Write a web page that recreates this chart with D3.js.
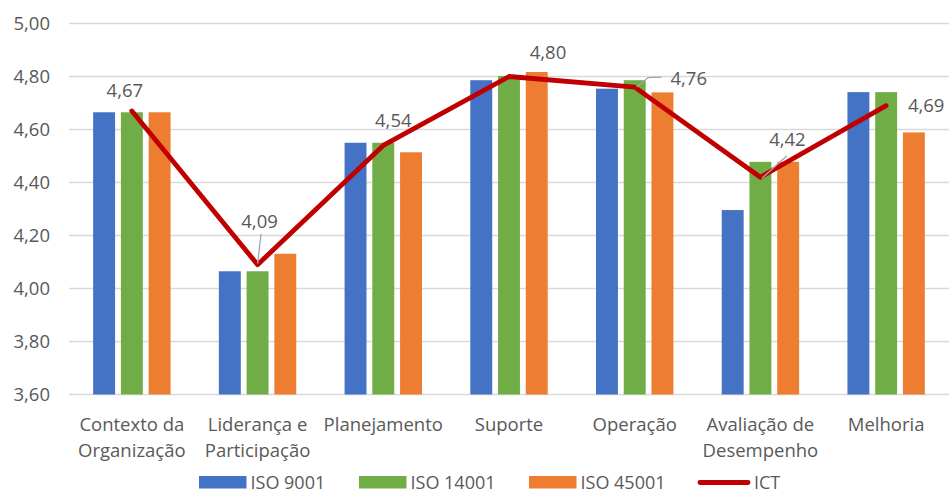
<!DOCTYPE html>
<html><head><meta charset="utf-8">
<script src="https://cdn.jsdelivr.net/npm/d3@7"></script>
<style>body{margin:0;background:#fff}svg{display:block}text{font-family:"Open Sans",sans-serif;fill:#595959}</style>
</head><body>
<svg id="c" width="949" height="493"></svg>
<script>
const categories = [["Contexto da","Organização"],["Liderança e","Participação"],["Planejamento"],["Suporte"],["Operação"],["Avaliação de","Desempenho"],["Melhoria"]];
const seriesNames = ["ISO 9001","ISO 14001","ISO 45001"];
const iso9001 = [4.665, 4.065, 4.55, 4.786, 4.754, 4.296, 4.741];
const iso14001 = [4.665, 4.065, 4.55, 4.802, 4.786, 4.478, 4.741];
const iso45001 = [4.665, 4.131, 4.514, 4.817, 4.74, 4.478, 4.589];
const ictName = "ICT";
const ict = [4.67, 4.09, 4.54, 4.80, 4.76, 4.42, 4.69];
const yTicks = [3.6, 3.8, 4.0, 4.2, 4.4, 4.6, 4.8, 5.0];

const colors = ["#4472C4","#70AD47","#ED7D31"];
const lineColor = "#C00000";
const fmt = v => d3.format(".2f")(v).replace(".", ",");
// label offsets relative to line point (dx, dy) and optional leader polylines
const labelPos = [
  {dx:-7, dy:-14},
  {dx:2, dy:-37, leader:[[3.5,-31],[0,-1]]},
  {dx:10, dy:-18},
  {dx:39, dy:-17.5},
  {dx:54, dy:-2, leader:[[2,0],[13.5,-9.5],[27,-10]]},
  {dx:27, dy:-31, leader:[[1.5,1],[26.5,-21.5]]},
  {dx:40, dy:6}
];

const svg = d3.select("#c");
const L = 69, R = 949, T = 23.5, B = 394.5;
const x = d3.scaleBand().domain(d3.range(categories.length)).range([L, R]);
const y = d3.scaleLinear().domain([3.6, 5.0]).range([B, T]);
const xs = d3.scaleBand().domain(d3.range(3)).range([-38.7, 38.7]).paddingInner(0.21);
const cx = i => x(i) + x.bandwidth()/2;

svg.append("g").selectAll("line").data(yTicks).join("line")
  .attr("x1", L).attr("x2", R).attr("y1", d=>y(d)).attr("y2", d=>y(d))
  .attr("stroke", "#D9D9D9").attr("stroke-width", 1.3);
svg.append("g").selectAll("text").data(yTicks).join("text")
  .attr("x", 50).attr("y", d=>y(d)).attr("dy", "0.36em").attr("text-anchor", "end")
  .attr("font-size", 18.5).text(fmt);

const seriesVals = [iso9001, iso14001, iso45001];
seriesVals.forEach((vals, s) => {
  svg.append("g").selectAll("rect").data(vals).join("rect")
    .attr("x", (d,i)=>cx(i)+xs(s)).attr("width", xs.bandwidth())
    .attr("y", d=>y(d)).attr("height", d=>B - y(d))
    .attr("fill", colors[s]);
});

svg.append("path").datum(ict)
  .attr("d", d3.line().x((d,i)=>cx(i)).y(d=>y(d)))
  .attr("fill", "none").attr("stroke", lineColor).attr("stroke-width", 4.8)
  .attr("stroke-linejoin", "round").attr("stroke-linecap", "round");

ict.forEach((v,i) => {
  const p = labelPos[i];
  if (p.leader) {
    svg.append("polyline")
      .attr("points", p.leader.map(q => [cx(i)+q[0], y(v)+q[1]].join(",")).join(" "))
      .attr("fill", "none").attr("stroke", "#A6A6A6").attr("stroke-width", 1.3);
  }
});
svg.append("g").selectAll("text").data(ict).join("text")
  .attr("x", (d,i)=>cx(i)+labelPos[i].dx).attr("y", (d,i)=>y(d)+labelPos[i].dy)
  .attr("text-anchor", "middle").attr("font-size", 18.5).text(fmt);

const cl = svg.append("g").selectAll("text").data(categories).join("text")
  .attr("x", (d,i)=>cx(i)).attr("y", 431).attr("text-anchor", "middle").attr("font-size", 18.5);
cl.selectAll("tspan").data(d=>d).join("tspan")
  .attr("x", function(){ return this.parentNode.getAttribute("x"); })
  .attr("dy", (d,j)=> j ? 26 : 0).text(d=>d);

const legY = 482.5;
const legItems = [
  {x:199, t:seriesNames[0], c:colors[0]},
  {x:359, t:seriesNames[1], c:colors[1]},
  {x:529, t:seriesNames[2], c:colors[2]}
];
const lg = svg.append("g");
legItems.forEach(it => {
  lg.append("rect").attr("x", it.x).attr("y", legY-6.5).attr("width", 47.5).attr("height", 12.5).attr("fill", it.c);
  lg.append("text").attr("x", it.x+51.5).attr("y", legY).attr("dy", "0.36em").attr("font-size", 18).text(it.t);
});
lg.append("line").attr("x1", 700).attr("x2", 748).attr("y1", legY).attr("y2", legY)
  .attr("stroke", lineColor).attr("stroke-width", 4.8).attr("stroke-linecap", "round");
lg.append("text").attr("x", 754).attr("y", legY).attr("dy", "0.36em").attr("font-size", 18).text(ictName);
</script>
</body></html>
